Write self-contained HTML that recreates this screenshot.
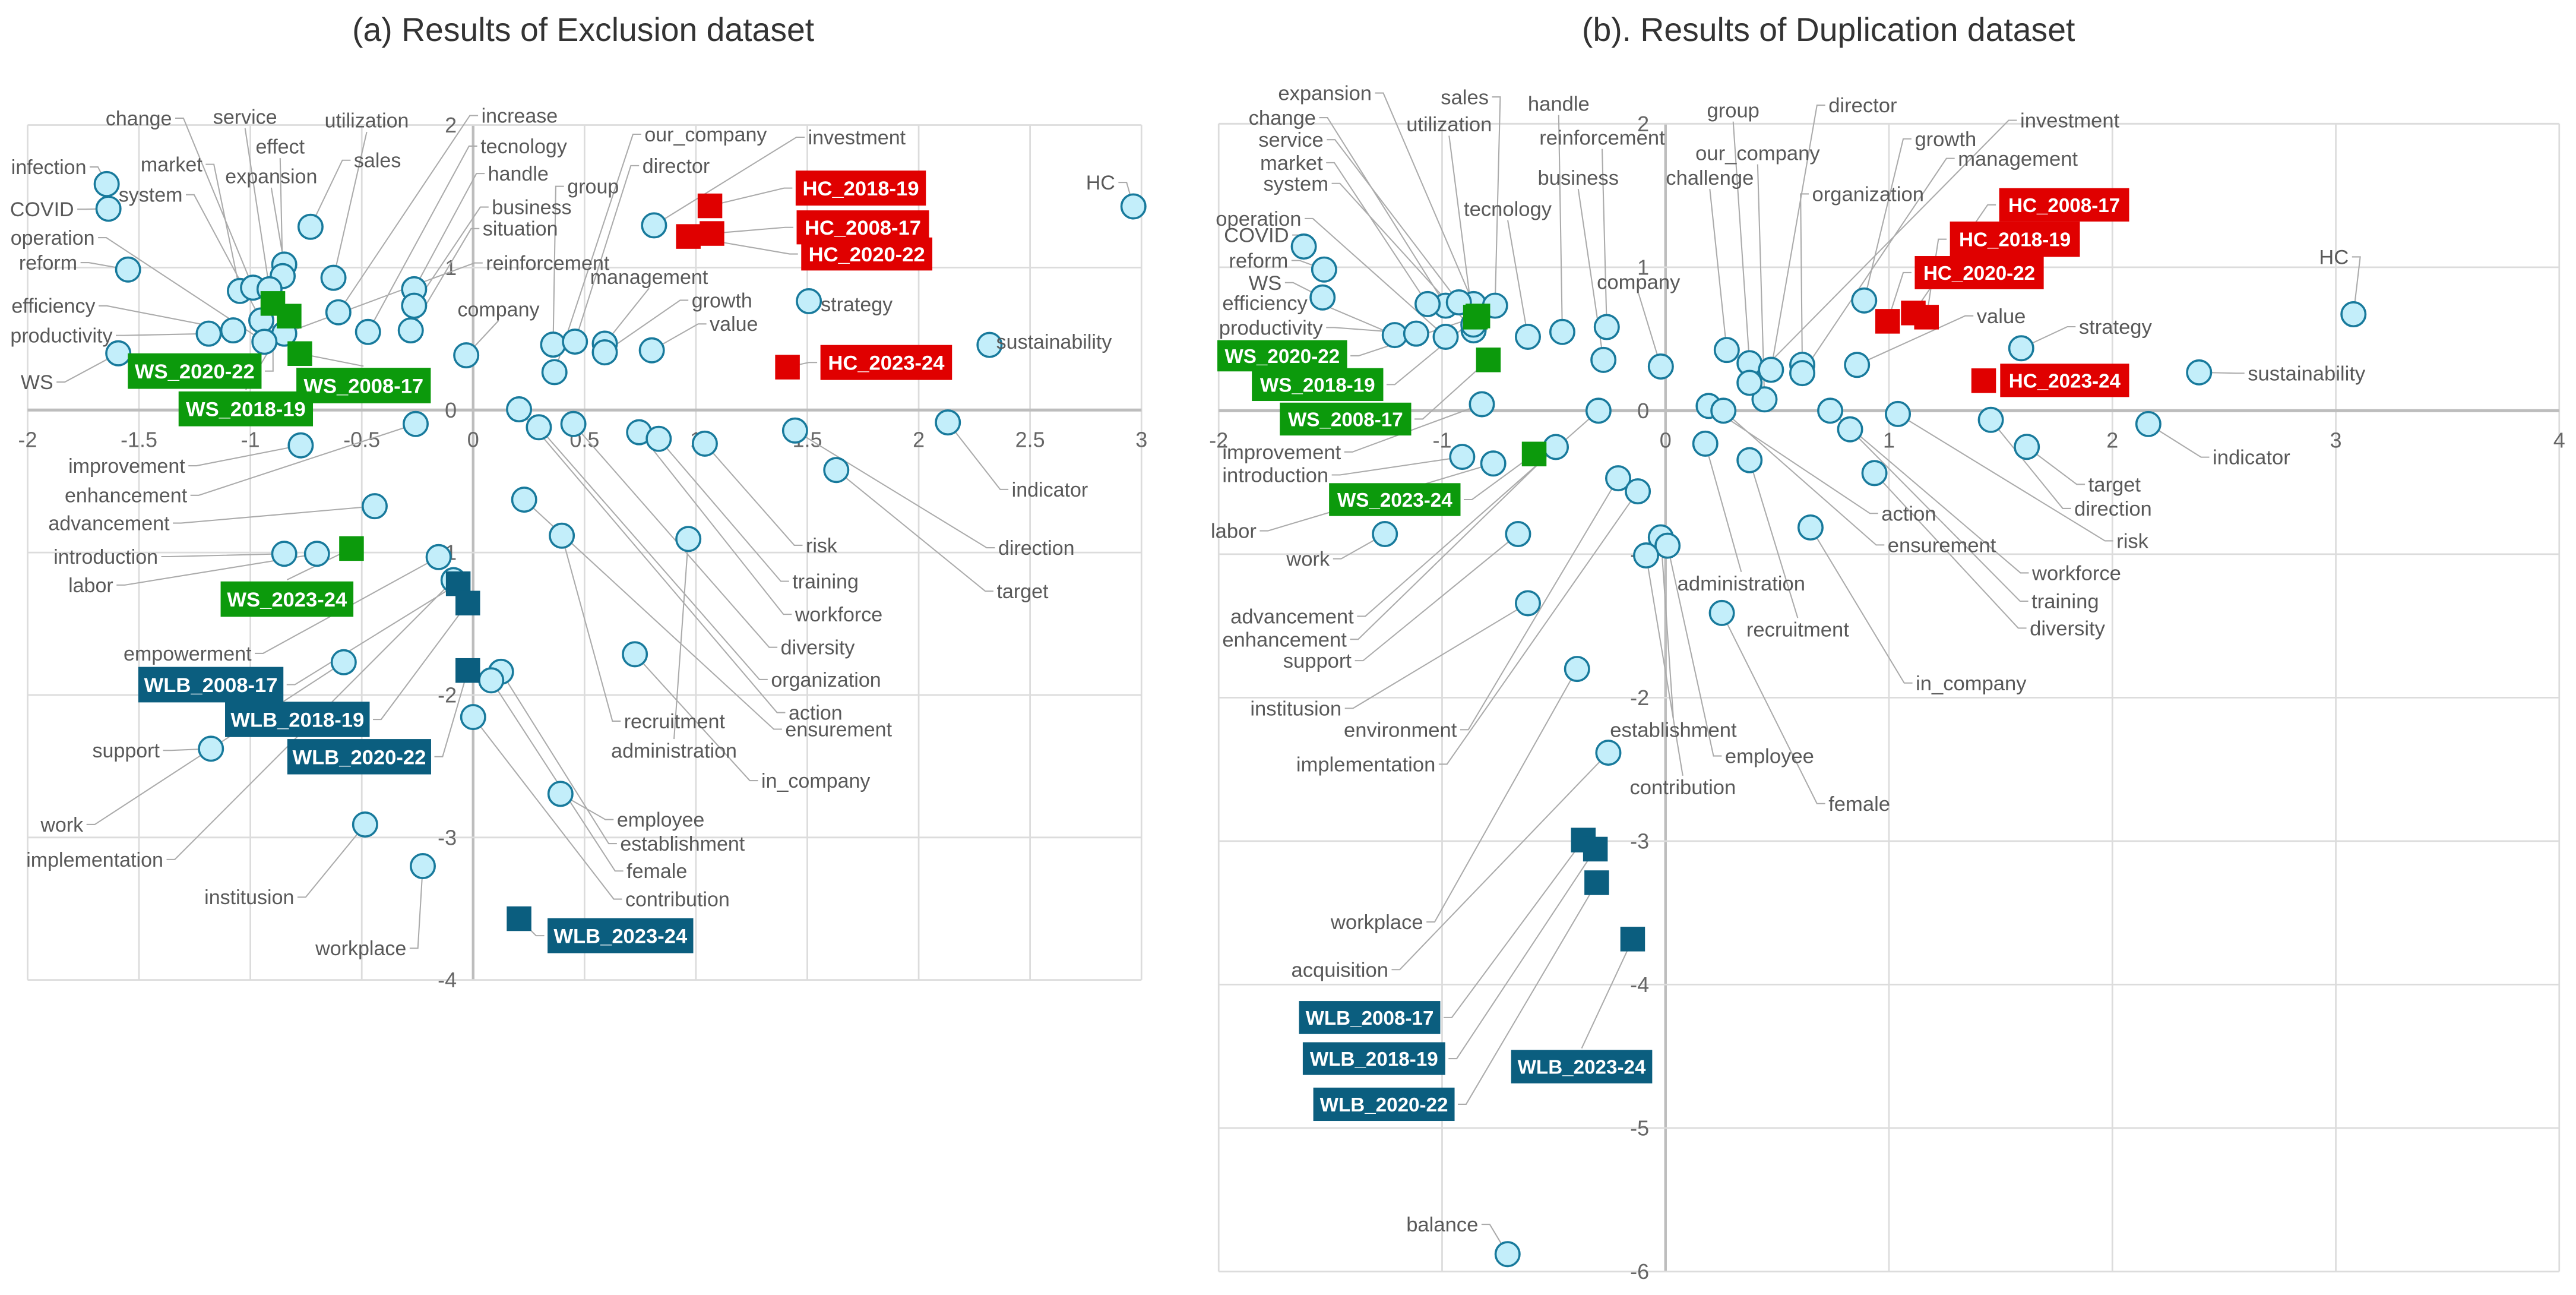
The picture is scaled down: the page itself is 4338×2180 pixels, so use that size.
<!DOCTYPE html>
<html><head><meta charset="utf-8"><title>Exclusion / Duplication results</title>
<style>
html,body{margin:0;padding:0;background:#fff;}
svg{display:block;}
.tick{font-family:"Liberation Sans",sans-serif;font-size:13px;fill:#666;}
.wa{font-family:"Liberation Sans",sans-serif;font-size:12.3px;fill:#595959;}
.wb{font-family:"Liberation Sans",sans-serif;font-size:12.5px;fill:#595959;}
.ba{font-family:"Liberation Sans",sans-serif;font-size:12.5px;font-weight:bold;fill:#fff;}
.bb{font-family:"Liberation Sans",sans-serif;font-size:12px;font-weight:bold;fill:#fff;}
.title{font-family:"Liberation Sans",sans-serif;font-size:20px;fill:#333;}
</style></head>
<body>
<svg id="root" xmlns="http://www.w3.org/2000/svg" width="4338" height="2180" viewBox="0 0 1568 788" preserveAspectRatio="none">
<rect x="0" y="0" width="1568" height="788" fill="#fff"/>
<text class="title" x="355" y="25" text-anchor="middle">(a) Results of Exclusion dataset</text>
<text class="title" x="1113" y="25" text-anchor="middle">(b). Results of Duplication dataset</text>
<g id="chartA"></g>
<g id="chartB"></g>
</svg>
<script>
// ---------- Chart (a) data ----------
const aXTicks = [-2,-1.5,-1,-0.5,0,0.5,1,1.5,2,2.5,3];
const aYTicks = [-4,-3,-2,-1,0,1,2];
const aWords = ['infection','COVID','reform','sales','expansion','effect','utilization','market','change','service','increase','tecnology','handle','business','situation','reinforcement','productivity','efficiency','system','operation','WS','company','group','director','management','growth','value','our_company','investment','HC','strategy','sustainability','action','organization','diversity','workforce','training','risk','direction','indicator','target','ensurement','recruitment','administration','advancement','introduction','labor','empowerment','improvement','enhancement','support','work','implementation','institusion','workplace','employee','establishment','female','contribution','in_company'];
const aWX = [-1.645,-1.637,-1.549,-0.730,-0.848,-0.855,-0.627,-1.047,-0.988,-0.914,-0.605,-0.472,-0.265,-0.265,-0.280,-0.848,-1.187,-1.077,-0.951,-0.937,-1.593,-0.031,0.359,0.457,0.591,0.591,0.802,0.365,0.812,2.964,1.507,2.318,0.206,0.295,0.450,0.745,0.833,1.040,1.445,2.131,1.630,0.229,0.398,0.966,-0.442,-0.848,-0.701,-0.155,-0.774,-0.258,-1.177,-0.581,-0.088,-0.485,-0.226,0.392,0.125,0.081,0.000,0.726];
const aWY = [1.586,1.413,0.986,1.286,1.021,0.940,0.928,0.836,0.859,0.848,0.686,0.548,0.848,0.732,0.559,0.536,0.536,0.559,0.629,0.479,0.398,0.384,0.459,0.480,0.466,0.405,0.419,0.266,1.296,1.429,0.764,0.457,0.005,-0.121,-0.098,-0.156,-0.202,-0.236,-0.144,-0.087,-0.421,-0.629,-0.882,-0.905,-0.675,-1.009,-1.009,-1.032,-0.248,-0.098,-2.377,-1.770,-1.194,-2.909,-3.201,-2.694,-1.837,-1.897,-2.155,-1.714];
const aWordLayout = [[6.8,101.6],[6.1,127.3],[11.5,159.8],[215.4,97.5],[137.1,107.2],[155.6,89.2],[197.6,73.3],[85.6,100],[64.3,71.9],[129.7,71],[293,70.3],[292.5,88.9],[297,105.6],[299.4,126],[293.8,139.1],[295.8,160],[6.3,204.1],[7,186.1],[72.2,118.5],[6.4,144.6],[12.6,232.5],[278.5,188.1],[345.3,113.4],[391,100.8],[359.2,168.4],[421,182.7],[432,197.1],[392.3,81.7],[491.8,83.5],[661,111],[499.6,185.1],[606.4,207.8],[480,433.6],[469.3,413.5],[475.2,393.9],[483.9,373.8],[482.3,353.7],[490.5,331.8],[607.6,333.3],[615.8,297.8],[606.7,359.7],[478,443.7],[379.8,438.8],[372,456.7],[29.4,318.3],[32.6,338.7],[41.6,356],[75.2,397.6],[41.6,283.4],[39.4,301.4],[56.2,456.6],[24.7,501.7],[16,523],[124.4,545.9],[192,577],[375.5,498.7],[377.5,513.3],[381.4,530],[380.6,547.1],[463.4,475]];
const aGroups = ['WS_2020-22','WS_2008-17','WS_2018-19','WS_2023-24','HC_2018-19','HC_2008-17','HC_2020-22','HC_2023-24','WLB_2008-17','WLB_2018-19','WLB_2020-22','WLB_2023-24'];
const aGX = [-0.899,-0.778,-0.826,-0.546,1.063,1.072,0.966,1.411,-0.067,-0.024,-0.024,0.206];
const aGY = [0.748,0.396,0.659,-0.972,1.433,1.239,1.218,0.301,-1.219,-1.355,-1.828,-3.570];
const aGBoxLayout = [[77.8,215,159.2,236.6],[180.4,223.8,262.2,245.4],[108.7,238.2,190.5,259.4],[134.3,353.8,215.1,375.3],[484.3,103.8,563.6,125.1],[484.9,128,565.5,148.7],[487.7,144.5,567.5,164.6],[499.4,209.9,579.5,231.2],[84.2,405.8,172.5,427.4],[137,427,225,448.5],[174.9,449.7,262.4,471.2],[333.3,558.7,422,580]];

// ---------- Chart (b) data ----------
const bXTicks = [-2,-1,0,1,2,3,4];
const bYTicks = [-6,-5,-4,-3,-2,-1,0,1,2];
const bWords = ['COVID','reform','WS','efficiency','productivity','operation','expansion','change','service','market','system','sales','utilization','tecnology','handle','reinforcement','business','company','challenge','group','our_company','director','organization','management','investment','growth','value','strategy','HC','sustainability','indicator','target','direction','risk','action','ensurement','workforce','training','diversity','in_company','recruitment','administration','improvement','introduction','labor','work','advancement','enhancement','support','institusion','environment','implementation','establishment','employee','contribution','female','workplace','acquisition','balance'];
const bWX = [-1.619,-1.528,-1.535,-1.212,-1.116,-0.984,-0.859,-0.984,-0.925,-1.065,-0.859,-0.763,-0.860,-0.616,-0.462,-0.263,-0.278,-0.021,0.274,0.376,0.443,0.472,0.612,0.612,0.376,0.889,0.857,1.592,3.079,2.388,2.161,1.617,1.456,1.040,0.193,0.259,0.737,0.826,0.935,0.649,0.376,0.178,-0.822,-0.910,-0.771,-1.256,-0.300,-0.491,-0.660,-0.616,-0.212,-0.124,-0.021,0.009,-0.087,0.252,-0.396,-0.256,-0.707];
const bWY = [1.144,0.984,0.789,0.527,0.537,0.515,0.743,0.732,0.755,0.743,0.560,0.732,0.600,0.515,0.549,0.583,0.354,0.308,0.423,0.331,0.079,0.285,0.320,0.262,0.194,0.768,0.319,0.435,0.672,0.267,-0.093,-0.252,-0.064,-0.023,0.033,0.000,0.000,-0.130,-0.435,-0.814,-0.345,-0.230,0.045,-0.322,-0.368,-0.860,0.000,-0.253,-0.860,-1.342,-0.471,-0.562,-0.883,-0.941,-1.009,-1.410,-1.800,-2.384,-5.879];
const bWordLayout = [[745,143],[748,158.5],[760,172],[744,184.3],[742,199.3],[740,133],[778,56.6],[760,71.6],[766,85],[767,99],[769,111.6],[877,59],[856,75.6],[891,127],[930,63],[937,83.6],[936,108],[972,171.5],[1014,108],[1039,67],[1032,93],[1113,64],[1103,118],[1191.8,96.4],[1229.7,73.2],[1165.5,84.5],[1203.2,192.2],[1265.4,198.8],[1411.6,156.3],[1368.2,227.1],[1346.8,278.2],[1271.1,294.7],[1262.6,309.4],[1288.3,329.1],[1145.2,312.4],[1149,331.6],[1236.9,348.6],[1236.6,365.8],[1235.5,382.2],[1166.1,415.6],[1063,383],[1021,355],[744,275],[744,289],[737,323],[783,340],[749,375],[744,389],[781,402],[761,431],[818,444],[789,465],[980,444],[1050,460],[992,479],[1113,489],[810,561],[786,590],[856,745]];
const bGroups = ['HC_2008-17','HC_2018-19','HC_2020-22','HC_2023-24','WS_2020-22','WS_2018-19','WS_2008-17','WS_2023-24','WLB_2008-17','WLB_2018-19','WLB_2020-22','WLB_2023-24'];
const bGX = [1.109,1.168,0.994,1.424,-0.851,-0.840,-0.793,-0.588,-0.368,-0.314,-0.308,-0.147];
const bGY = [0.681,0.652,0.623,0.209,0.652,0.660,0.354,-0.302,-2.993,-3.056,-3.290,-3.683];
const bGBoxLayout = [[1216.9,114.5,1296,134.8],[1186.9,134.8,1266,156.3],[1165.5,155.8,1244,176],[1217.5,221.3,1296,241.6],[741,207,820,226],[762,224,842,244],[779,245,859,265],[809,294,889,314],[790.7,609.1,876.7,629.2],[793,634.2,879.7,654.1],[799.4,661.8,885.4,682.1],[919.8,638.9,1005.7,659.2]];

const NS = 'http://www.w3.org/2000/svg';
const COLORS = {HC:'#e00000', WS:'#0c9a0c', WLB:'#0b5e7f'};

function mk(parent, tag, attrs){
  const el = document.createElementNS(NS, tag);
  for (const k in attrs) el.setAttribute(k, attrs[k]);
  parent.appendChild(el);
  return el;
}
function fmt(v){ return String(v); }

function drawChart(g, ax, words, wx, wy, wlayout, groups, gx, gy, gbox, wordCls, boxCls){
  const sx = v => ax.X0 + v*ax.KX;
  const sy = v => ax.Y0 - v*ax.KY;
  const xmin = ax.xt[0], xmax = ax.xt[ax.xt.length-1];
  const ymin = ax.yt[0], ymax = ax.yt[ax.yt.length-1];
  const grid = mk(g,'g',{});
  
  
  ax.xt.forEach(t => {
    const l = mk(grid,'line',{x1:sx(t),x2:sx(t),y1:sy(ymax),y2:sy(ymin),stroke:t===0?'#bdbdbd':'#dcdcdc','stroke-width':t===0?1.6:1});
    
    
  });
  ax.yt.forEach(t => {
    const l = mk(grid,'line',{x1:sx(xmin),x2:sx(xmax),y1:sy(t),y2:sy(t),stroke:t===0?'#bdbdbd':'#dcdcdc','stroke-width':t===0?1.8:1});
    
    
  });
  ax.xt.forEach(t => {
    const tx = mk(g,'text',{x:sx(t),y:sy(0)+18,'text-anchor':'middle',class:'tick',dy:'0.35em'});
    tx.textContent = fmt(t);
    
    
  });
  ax.yt.forEach(t => {
    const tx = mk(g,'text',{x:sx(0)-10,y:sy(t),'text-anchor':'end',class:'tick',dy:'0.35em'});
    tx.textContent = fmt(t);
    
    
  });
  const leaders = mk(g,'g',{fill:'none',stroke:'#ababab','stroke-width':0.75});
  
  
  const marks = mk(g,'g',{});
  
  
  const labels = mk(g,'g',{});
  
  

  function leader(bx0, by0, bx1, by1, px, py){
    let pts;
    const cy = (by0+by1)/2, cx = (bx0+bx1)/2;
    if (px > bx1 + 2) pts = [[bx1+2,cy],[bx1+7,cy],[px,py]];
    else if (px < bx0 - 2) pts = [[bx0-2,cy],[bx0-7,cy],[px,py]];
    else if (py > by1) pts = [[cx,by1+1],[px,py]];
    else pts = [[cx,by0-1],[px,py]];
    const d = Math.hypot(px-pts[0][0], py-pts[0][1]);
    if (d < 9) return;
    const pl = mk(leaders,'polyline',{points:pts.map(p=>p.join(',')).join(' ')});
    
    
  }

  words.forEach((w,i) => {
    const px = sx(wx[i]), py = sy(wy[i]);
    const c = mk(marks,'circle',{cx:px,cy:py,r:7.3,fill:'#c3eefa',stroke:'#187a9c','stroke-width':1.3});
    
    
    const lx = wlayout[i][0], ly = wlayout[i][1];
    const t = mk(labels,'text',{x:lx,y:ly,class:wordCls,dy:'0.35em'});
    t.textContent = w;
    
    
    const wdt = t.getComputedTextLength();
    leader(lx, ly-6, lx+wdt, ly+6, px, py);
  });
  const boxes = mk(g,'g',{});
  
  
  groups.forEach((name,i) => {
    const col = COLORS[name.split('_')[0]];
    const px = sx(gx[i]), py = sy(gy[i]);
    const s = mk(marks,'rect',{x:px-7.5,y:py-7.5,width:15,height:15,fill:col});
    
    
    const b = gbox[i];
    leader(b[0], b[1], b[2], b[3], px, py);
    const r = mk(boxes,'rect',{x:b[0],y:b[1],width:b[2]-b[0],height:b[3]-b[1],fill:col});
    
    
    const t = mk(boxes,'text',{x:(b[0]+b[2])/2,y:(b[1]+b[3])/2,'text-anchor':'middle',class:boxCls,dy:'0.36em'});
    t.textContent = name;
    
    
  });
}

drawChart(document.getElementById('chartA'),
  {id:'chart-a', X0:288, KX:135.6, Y0:249.5, KY:86.7, xt:aXTicks, yt:aYTicks},
  aWords, aWX, aWY, aWordLayout, aGroups, aGX, aGY, aGBoxLayout, 'wa', 'ba');
drawChart(document.getElementById('chartB'),
  {id:'chart-b', X0:1013.8, KX:136, Y0:249.9, KY:87.3, xt:bXTicks, yt:bYTicks},
  bWords, bWX, bWY, bWordLayout, bGroups, bGX, bGY, bGBoxLayout, 'wb', 'bb');
</script>
</body></html>
